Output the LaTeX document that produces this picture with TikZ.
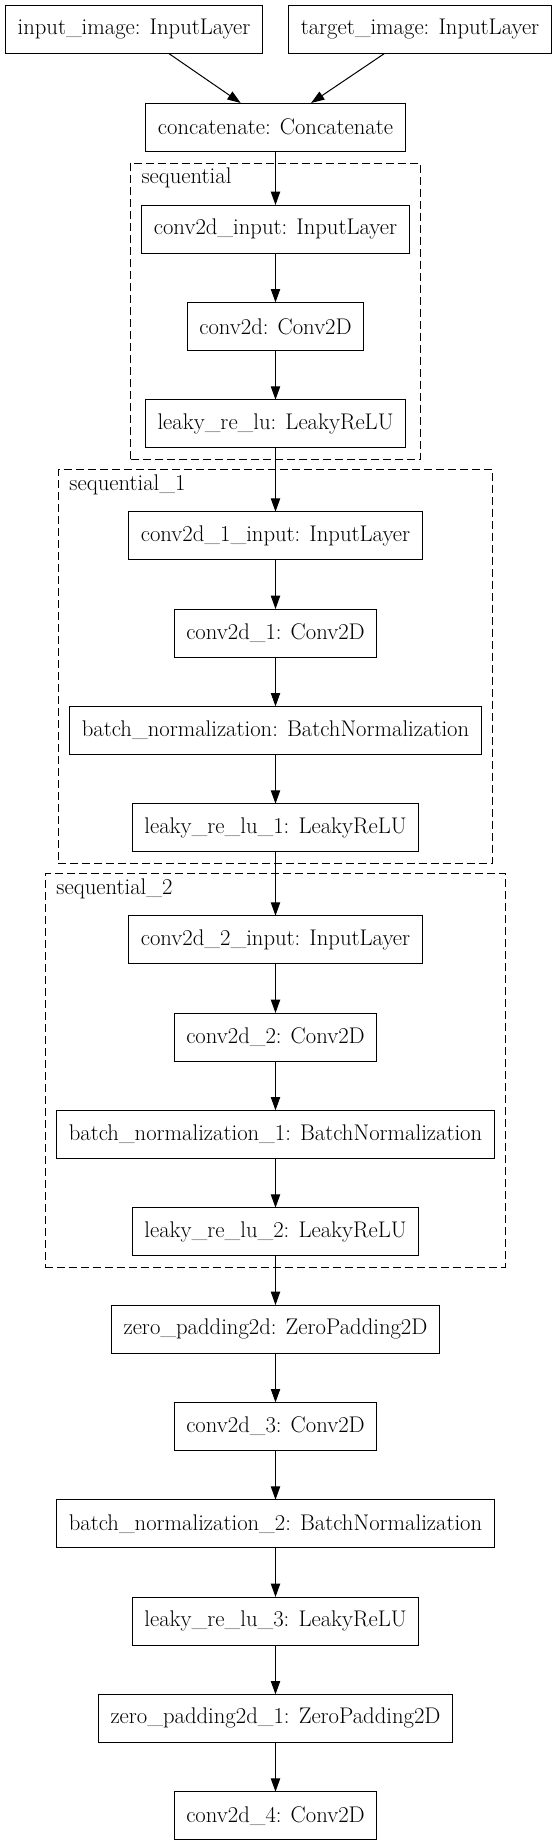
\documentclass[tikz,border=0pt]{standalone}
\usepackage{tikz}
\usetikzlibrary{positioning, arrows.meta, calc, fit}

\begin{document}
\begin{tikzpicture}[
  x=0.75pt, y=-0.75pt,
  node distance=37pt,
  every node/.style={inner sep=2pt, outer sep=0pt},
  layer/.style={draw, line width=0.75pt, font=\fontsize{17}{20}\selectfont,
                inner xsep=9pt, minimum height=36pt},
  group/.style={draw, dash pattern=on 6pt off 3pt, line width=0.75pt,
                inner xsep=8.5pt, inner ysep=8.5pt},
  grouplabel/.style={font=\fontsize{17}{20}\selectfont, inner sep=0pt, anchor=base west},
  arrow/.style={-{Triangle[length=10pt, width=7pt]}, line width=0.75pt}
]
\useasboundingbox (0,0) rectangle (557,1845);

\node[layer] (inimg)  at (134,29.5)  {input\_image: InputLayer};
\node[layer] (tgtimg) at (420,29.5)  {target\_image: InputLayer};
\node[layer] (concat) at (275.5,127) {concatenate: Concatenate};

% sequential
\node[layer, below=40.5pt of concat] (cin)   {conv2d\_input: InputLayer};
\node[layer, below=of cin]           (conv)  {conv2d: Conv2D};
\node[layer, below=of conv]          (lrelu) {leaky\_re\_lu: LeakyReLU};

% sequential_1
\node[layer, below=48pt of lrelu] (cin1)   {conv2d\_1\_input: InputLayer};
\node[layer, below=of cin1]       (conv1)  {conv2d\_1: Conv2D};
\node[layer, below=of conv1]      (bnorm)  {batch\_normalization: BatchNormalization};
\node[layer, below=of bnorm]      (lrelu1) {leaky\_re\_lu\_1: LeakyReLU};

% sequential_2
\node[layer, below=48pt of lrelu1] (cin2)   {conv2d\_2\_input: InputLayer};
\node[layer, below=of cin2]        (conv2)  {conv2d\_2: Conv2D};
\node[layer, below=of conv2]       (bnorm1) {batch\_normalization\_1: BatchNormalization};
\node[layer, below=of bnorm1]      (lrelu2) {leaky\_re\_lu\_2: LeakyReLU};

\node[layer, below=of lrelu2] (zpad)   {zero\_padding2d: ZeroPadding2D};
\node[layer, below=of zpad]   (conv3)  {conv2d\_3: Conv2D};
\node[layer, below=of conv3]  (bnorm2) {batch\_normalization\_2: BatchNormalization};
\node[layer, below=of bnorm2] (lrelu3) {leaky\_re\_lu\_3: LeakyReLU};
\node[layer, below=of lrelu3] (zpad1)  {zero\_padding2d\_1: ZeroPadding2D};
\node[layer, below=of zpad1]  (conv4)  {conv2d\_4: Conv2D};

\coordinate (seqtop)  at ($(cin.north)+(0,23pt)$);
\coordinate (seq1top) at ($(cin1.north)+(0,23pt)$);
\coordinate (seq2top) at ($(cin2.north)+(0,23pt)$);
\node[group, fit=(seqtop)(cin)(conv)(lrelu)]             (seq)  {};
\node[group, fit=(seq1top)(cin1)(conv1)(bnorm)(lrelu1)]  (seq1) {};
\node[group, fit=(seq2top)(cin2)(conv2)(bnorm1)(lrelu2)] (seq2) {};
\node[grouplabel] (seqlbl)  at ($(seq.north west)+(8.25pt,-15.4pt)$)  {sequential};
\node[grouplabel] (seq1lbl) at ($(seq1.north west)+(8.25pt,-15.4pt)$) {sequential\_1};
\node[grouplabel] (seq2lbl) at ($(seq2.north west)+(8.25pt,-15.4pt)$) {sequential\_2};

\draw[arrow] (inimg) -- (concat);
\draw[arrow] (tgtimg) -- (concat);
\draw[arrow] (concat) -- (cin);
\draw[arrow] (cin) -- (conv);
\draw[arrow] (conv) -- (lrelu);
\draw[arrow] (lrelu) -- (cin1);
\draw[arrow] (cin1) -- (conv1);
\draw[arrow] (conv1) -- (bnorm);
\draw[arrow] (bnorm) -- (lrelu1);
\draw[arrow] (lrelu1) -- (cin2);
\draw[arrow] (cin2) -- (conv2);
\draw[arrow] (conv2) -- (bnorm1);
\draw[arrow] (bnorm1) -- (lrelu2);
\draw[arrow] (lrelu2) -- (zpad);
\draw[arrow] (zpad) -- (conv3);
\draw[arrow] (conv3) -- (bnorm2);
\draw[arrow] (bnorm2) -- (lrelu3);
\draw[arrow] (lrelu3) -- (zpad1);
\draw[arrow] (zpad1) -- (conv4);
\end{tikzpicture}
\end{document}
